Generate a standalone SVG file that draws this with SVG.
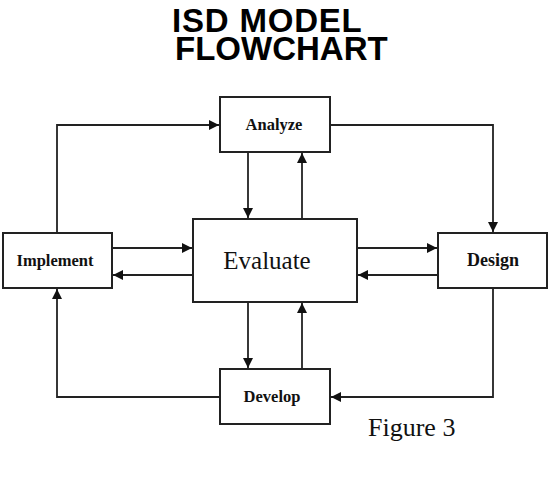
<svg xmlns="http://www.w3.org/2000/svg" width="549" height="480" viewBox="0 0 549 480">
<defs>
<style>
.box{fill:#fff;stroke:#222;stroke-width:2}
.ln{fill:none;stroke:#222;stroke-width:1.8}
.lbl{font-family:"Liberation Serif","Times New Roman",serif;font-weight:bold;font-size:16.5px;fill:#111;text-anchor:middle}
.title{font-family:"Liberation Sans",Arial,sans-serif;font-weight:bold;font-size:33px;fill:#000}
</style>
<marker id="ah" viewBox="0 0 10 10" refX="10" refY="5" markerWidth="10" markerHeight="10" markerUnits="userSpaceOnUse" orient="auto">
<path d="M0,0 L10,5 L0,10 Z" fill="#111"/>
</marker>
</defs>
<rect width="549" height="480" fill="#fff"/>
<text class="title"><tspan x="172" y="32" letter-spacing="0.8">ISD MODEL</tspan><tspan x="175" y="60">FLOWCHART</tspan></text>
<g id="connectors">
<polyline class="ln" points="57,233 57,125 219,125" marker-end="url(#ah)"/>
<polyline class="ln" points="330,125 493,125 493,232" marker-end="url(#ah)"/>
<polyline class="ln" points="493,288 493,397 331,397" marker-end="url(#ah)"/>
<polyline class="ln" points="220,397 57,397 57,289" marker-end="url(#ah)"/>
<line class="ln" x1="248" y1="152" x2="248" y2="218" marker-end="url(#ah)"/>
<line class="ln" x1="302" y1="219" x2="302" y2="153" marker-end="url(#ah)"/>
<line class="ln" x1="248" y1="302" x2="248" y2="368" marker-end="url(#ah)"/>
<line class="ln" x1="302" y1="369" x2="302" y2="303" marker-end="url(#ah)"/>
<line class="ln" x1="112" y1="248" x2="192" y2="248" marker-end="url(#ah)"/>
<line class="ln" x1="193" y1="275" x2="113" y2="275" marker-end="url(#ah)"/>
<line class="ln" x1="357" y1="248" x2="437" y2="248" marker-end="url(#ah)"/>
<line class="ln" x1="438" y1="275" x2="358" y2="275" marker-end="url(#ah)"/>
</g>
<g id="analyze">
<rect class="box" x="220" y="97" width="110" height="55"/>
<text class="lbl" x="274" y="130">Analyze</text>
</g>
<g id="implement">
<rect class="box" x="3" y="233" width="109" height="55"/>
<text class="lbl" x="55" y="266">Implement</text>
</g>
<g id="evaluate">
<rect class="box" x="193" y="219" width="164" height="83"/>
<text x="267" y="269" font-family="Liberation Serif,Times New Roman,serif" font-size="25" fill="#111" text-anchor="middle">Evaluate</text>
</g>
<g id="design">
<rect class="box" x="438" y="233" width="109" height="55"/>
<text class="lbl" x="493" y="266" style="font-size:18px">Design</text>
</g>
<g id="develop">
<rect class="box" x="220" y="369" width="110" height="55"/>
<text class="lbl" x="272" y="402">Develop</text>
</g>
<text x="368" y="436" font-family="Liberation Serif,Times New Roman,serif" font-size="26" fill="#111">Figure 3</text>
</svg>
